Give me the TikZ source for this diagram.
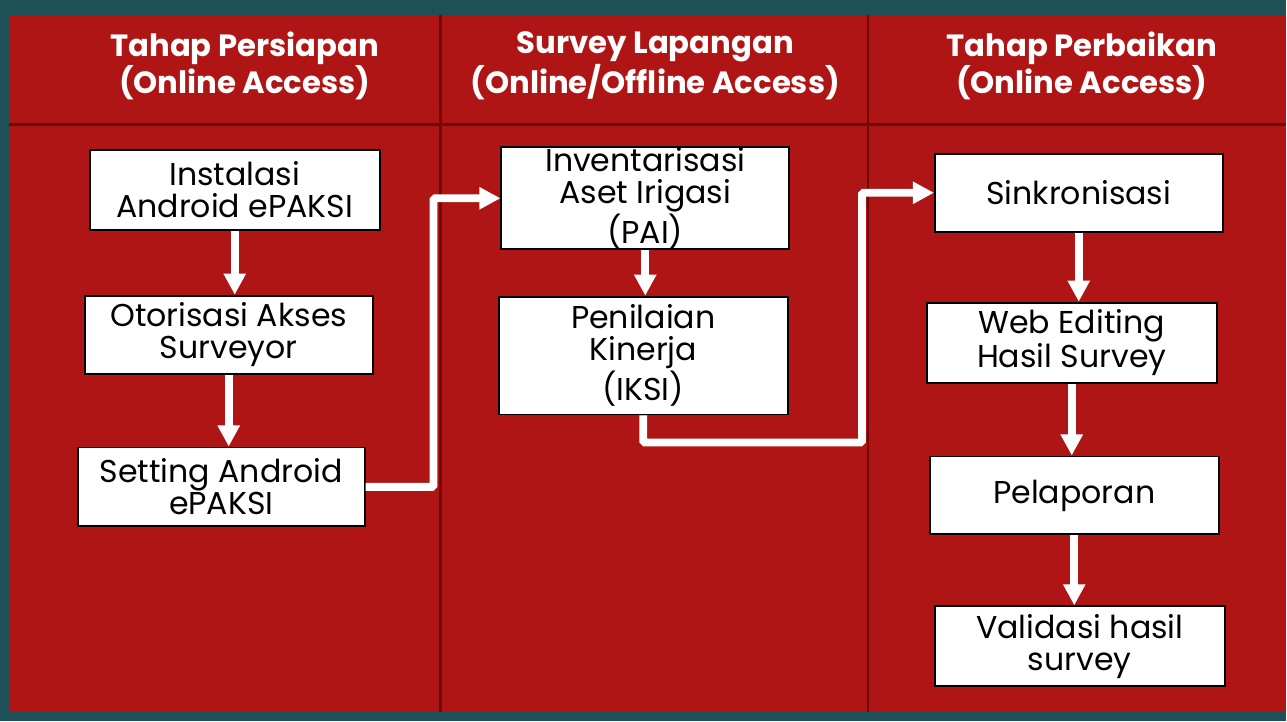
\documentclass[tikz,border=0pt]{standalone}
\usepackage{fontspec}
\setmainfont{Poppins}
\usetikzlibrary{arrows.meta}

\definecolor{bgred}{RGB}{176,21,21}
\definecolor{bgteal}{RGB}{30,80,88}
\definecolor{darkred}{RGB}{110,10,10}

\begin{document}
\begin{tikzpicture}
		[
		x=0.02cm, y=-0.02cm,
		kotak/.style={draw=black, line width=1.1pt, fill=white, align=center, inner sep=0pt, font=\fontsize{18}{18.2}\selectfont},
		judul/.style={text=white, align=center, font=\bfseries\fontsize{17.5}{20}\selectfont},
		alur/.style={draw=white, line width=4.5pt, -{Triangle[width=12pt,length=12pt]}, rounded corners=1pt},
		garis/.style={draw=darkred, line width=1.7pt}
		%Voreinstellung der Kaesten und Pfeile
		]
		
		%Hintergrund
		\fill[bgteal] (0,0) rectangle (1287,722);
		\fill[bgred] (9,15) rectangle (1287,713);
		
		%Trennlinien
		\draw[garis] (9,125) -- (1287,125);
		\draw[garis] (441,15) -- (441,713);
		\draw[garis] (869,15) -- (869,713);
		
		%Spaltenkoepfe
		\node[judul] (kepala1) at (245,66) {Tahap Persiapan\\(Online Access)};
		\node[judul] (kepala2) at (656,66) {Survey Lapangan\\(Online/Offline Access)};
		\node[judul] (kepala3) at (1083,66) {Tahap Perbaikan\\(Online Access)};
		
		%Spalte 1
		\node[kotak, minimum width=5.8cm, minimum height=1.6cm] (inst) at (235,190) {Instalasi\\Android ePAKSI};
		\node[kotak, minimum width=5.76cm, minimum height=1.56cm] (otor) at (229,335) {Otorisasi Akses\\Surveyor};
		\node[kotak, minimum width=5.74cm, minimum height=1.58cm] (sett) at (221.5,487.5) {Setting Android\\ePAKSI};
		
		%Spalte 2
		\node[kotak, minimum width=5.76cm, minimum height=1.94cm] (inv) at (646,198.5) {Inventarisasi\\Aset Irigasi\\(PAI)};
		\node[kotak, minimum width=5.78cm, minimum height=2.36cm] (pen) at (644,356) {Penilaian\\Kinerja\\(IKSI)};
		
		%Spalte 3
		\node[kotak, minimum width=5.76cm, minimum height=1.56cm] (sink) at (1080,193) {Sinkronisasi};
		\node[kotak, minimum width=5.8cm, minimum height=1.6cm] (web) at (1073,343) {Web Editing\\Hasil Survey};
		\node[kotak, minimum width=5.78cm, minimum height=1.56cm] (lap) at (1075.5,496) {Pelaporan};
		\node[kotak, minimum width=5.8cm, minimum height=1.6cm] (val) at (1081,647) {Validasi hasil\\survey};
		
		%Knickpunkte
		\coordinate (bendA) at (434,300);
		\coordinate (bendB) at (863,443);
		
		%Pfeile
		\draw[alur] (inst.south) -- (inst.south |- otor.north);
		\draw[alur] (otor.south) -- (otor.south |- sett.north);
		\draw[alur] (sett.east) -| (bendA) |- (inv.west);
		\draw[alur] (inv.south) -- (inv.south |- pen.north);
		\draw[alur] (pen.south) |- (bendB) |- (sink.west);
		\draw[alur] (sink.south) -- (sink.south |- web.north);
		\draw[alur] (web.south) -- (web.south |- lap.north);
		\draw[alur] (lap.south) -- (lap.south |- val.north);
		
	\end{tikzpicture}
\end{document}
